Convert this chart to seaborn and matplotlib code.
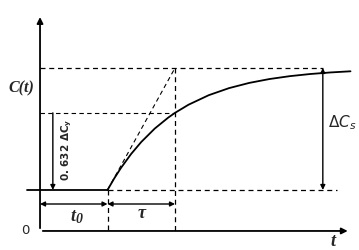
import numpy as np
import pandas as pd
import matplotlib
matplotlib.use("Agg")
import matplotlib.pyplot as plt
import seaborn as sns

sns.set_theme(style="white")

# step response data (t0 = 1, tau = 1, normalised)
t0 = 1.0
tau = 1.0
frac = 0.632
t_curve = [1.0, 1.1, 1.2, 1.35, 1.5, 1.7, 1.9, 2.0, 2.2, 2.5, 2.8, 3.1, 3.4, 3.7, 4.0, 4.3, 4.6]
c_curve = [1 - np.exp(-(t - t0) / tau) for t in t_curve]

df = pd.DataFrame({"t": t_curve, "C": c_curve})

fig = plt.figure(figsize=(3.59, 2.50), dpi=100)
ax = fig.add_axes([0, 0, 1, 1])
ax.set_xlim(-0.593, 4.726)
ax.set_ylim(-0.492, 1.557)
ax.axis("off")

x_ax = -0.336
k = "black"
serif = dict(family="Liberation Serif", style="italic", fontweight="bold")

# axes with arrows
ax.annotate("", xy=(0, 1.44), xytext=(0, x_ax),
            arrowprops=dict(arrowstyle="-|>", color=k, lw=1.3, mutation_scale=9))
ax.annotate("", xy=(4.6, x_ax), xytext=(0, x_ax),
            arrowprops=dict(arrowstyle="-|>", color=k, lw=1.3, mutation_scale=9))

# curve
ax.plot([-0.2, t0], [0, 0], color=k, lw=1.3)
sns.lineplot(data=df, x="t", y="C", ax=ax, color=k, lw=1.3, sort=False)

# dashed guides
ax.plot([t0, 4.4], [0, 0], color=k, lw=0.9, ls=(0, (4, 3)))
ax.plot([0, 4.2], [1, 1], color=k, lw=0.9, ls=(0, (4, 3)))
ax.plot([0, t0 + tau], [frac, frac], color=k, lw=0.8, ls=(0, (4, 3)))
ax.plot([t0, t0], [0, x_ax], color=k, lw=0.9, ls=(0, (4, 3)))
ax.plot([t0 + tau, t0 + tau], [1, x_ax], color=k, lw=0.9, ls=(0, (4, 3)))
ax.plot([t0, t0 + tau], [0, 1], color=k, lw=0.8, ls=(0, (4, 3)))

# dimension arrows
dim = dict(arrowstyle="<|-|>", color=k, lw=1.0, mutation_scale=7, shrinkA=0, shrinkB=0)
ax.annotate("", xy=(0, -0.115), xytext=(t0, -0.115), arrowprops=dim)
ax.annotate("", xy=(t0, -0.115), xytext=(t0 + tau, -0.115), arrowprops=dim)
ax.annotate("", xy=(4.19, 1), xytext=(4.19, 0), arrowprops=dim)
ax.annotate("", xy=(0.19, 0), xytext=(0.19, frac),
            arrowprops=dict(arrowstyle="-|>", color=k, lw=1.0, mutation_scale=7,
                            shrinkA=0, shrinkB=0))

# labels
ax.text(-0.27, 0.835, "C(t)", fontsize=11.5, ha="center", va="center", **serif)
ax.text(t0 / 2 + 0.02, -0.215, "t", fontsize=13, ha="right", va="center", **serif)
ax.text(t0 / 2 + 0.02, -0.24, "0", fontsize=10, ha="left", va="center", **serif)
ax.text(t0 + tau / 2, -0.195, "τ", fontsize=13, ha="center", va="center", **serif)
ax.text(-0.22, x_ax, "0", fontsize=9.5, ha="center", va="center")
ax.text(4.34, -0.42, "t", fontsize=13, ha="center", va="center", **serif)
ax.text(4.48, 0.55, "$\\Delta C_s$", fontsize=11, ha="center", va="center")
ax.text(0.39, 0.33, "0. 632 $\\mathbf{\\Delta C_y}$", fontsize=7.5, fontweight="bold",
        rotation=90, ha="center", va="center")

fig.savefig("out.png", dpi=100)
